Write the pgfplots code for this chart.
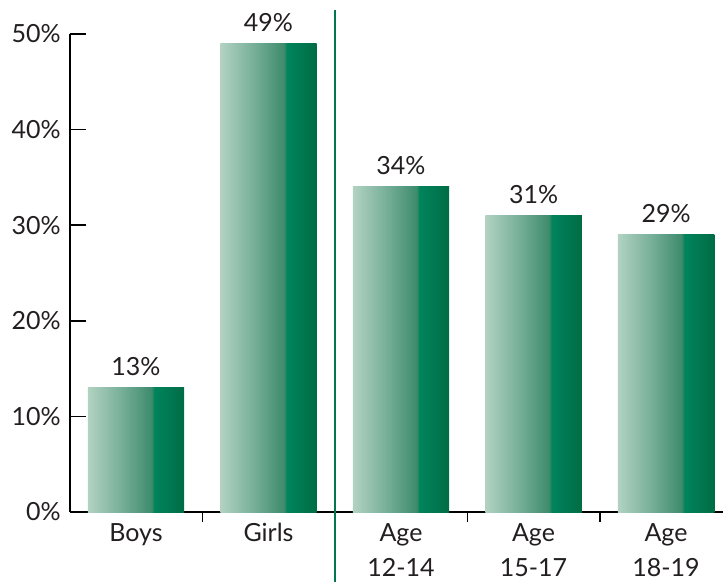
\documentclass[border=0pt]{standalone}
\usepackage{pgfplots}
\pgfplotsset{compat=1.18}
\usepackage{fontspec}
\setmainfont{Lato}

\definecolor{txt}{HTML}{231F20}
\definecolor{sepline}{HTML}{00774E}
\definecolor{g0}{HTML}{B2D2C2}
\definecolor{g1}{HTML}{78B09A}
\definecolor{g2}{HTML}{3E8B6C}
\definecolor{g3}{HTML}{00845C}
\definecolor{g4}{HTML}{006C45}
\pgfdeclarehorizontalshading{barshade}{100bp}{color(0bp)=(g0); color(25bp)=(g0); color(42bp)=(g1); color(58bp)=(g2); color(59.5bp)=(g3); color(75bp)=(g4); color(100bp)=(g4)}

\begin{document}
\begin{tikzpicture}
\begin{axis}[
    x=66.25pt, y=4.78pt,
    xmin=-0.5, xmax=4.43, ymin=0, ymax=50,
    axis x line=bottom, axis y line=left,
    axis line style={line width=0.75pt, -},
    clip=false,
    font=\fontsize{12.5}{17.5}\selectfont,
    /pgf/number format/assume math mode=true,
    tick align=inside,
    ytick={0,10,...,50},
    yticklabel={\pgfmathprintnumber{\tick}\%},
    ytick style={line width=0.75pt, black},
    major tick length=8pt,
    xtick={0,1,2,3,4},
    xticklabels={Boys, Girls, Age\\12-14, Age\\15-17, Age\\18-19},
    xtick style={draw=none},
    extra x ticks={0.5,2.5,3.5},
    extra x tick labels={},
    extra x tick style={xtick style={draw=black, line width=0.75pt}, major tick length=5pt},
    xticklabel style={align=center, text=txt, anchor=north, yshift=6pt},
    yticklabel style={text=txt, xshift=-1pt},
    ybar, bar width=0.728, bar shift=0pt,
    nodes near coords={\pgfmathprintnumber{\pgfplotspointmeta}\%},
    every node near coord/.append style={text=txt, yshift=2.5pt},
    every axis plot/.append style={draw=none, shading=barshade},
]
\addplot coordinates {(0,13)};
\addplot coordinates {(1,49)};
\addplot coordinates {(2,34)};
\addplot coordinates {(3,31)};
\addplot coordinates {(4,29)};
\draw[sepline, line width=1pt] (axis cs:1.5,52.5) -- (axis cs:1.5,-7.3);
\coordinate (bl) at (axis cs:-1.0264,-7.22);
\coordinate (tr) at (axis cs:4.43,53.56);
\end{axis}
\pgfresetboundingbox
\path[use as bounding box] (bl) rectangle (tr);
\end{tikzpicture}
\end{document}
